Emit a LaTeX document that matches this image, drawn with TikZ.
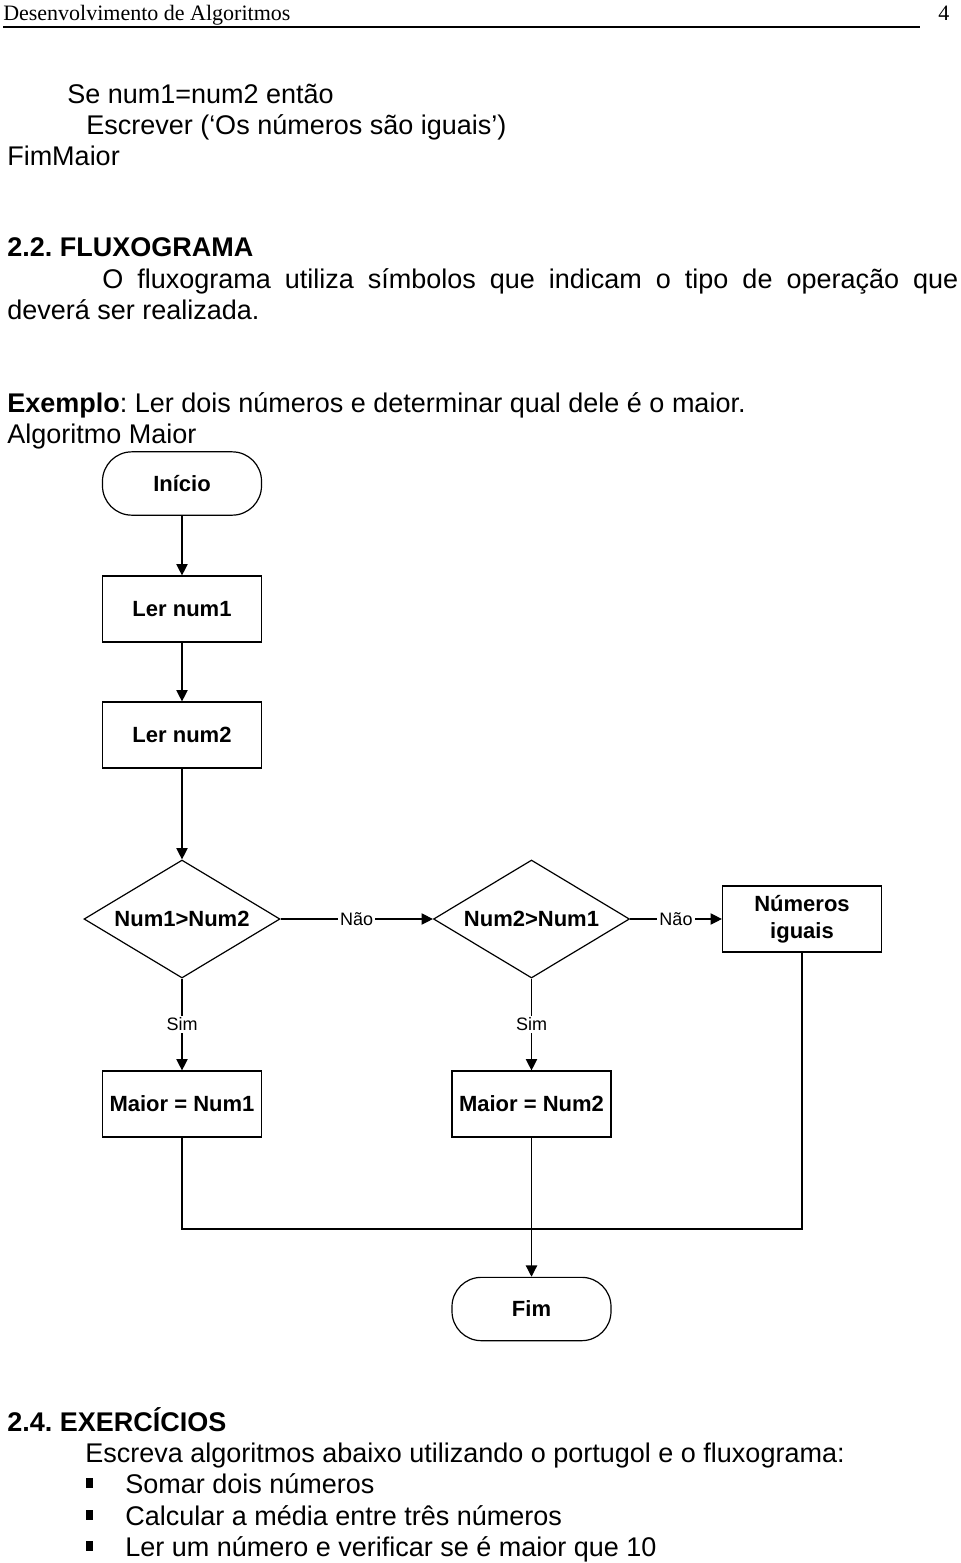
\documentclass[tikz,border=0pt]{standalone}
\usepackage{fontspec}
\setmainfont{Liberation Sans}
\newfontfamily\serifhdr{Liberation Serif}
\usetikzlibrary{shapes.geometric,arrows.meta}
\frenchspacing
\begin{document}
\frenchspacing
\begin{tikzpicture}[x=0.75pt,y=-0.75pt,
  body/.style={anchor=base west, inner sep=0, font=\fontsize{20.25}{23.25}\selectfont},
  hdr/.style={anchor=base west, inner sep=0, font=\serifhdr\fontsize{16.5}{19}\selectfont},
  proc/.style={draw, line width=0.9pt, minimum width=119.25pt, minimum height=49.5pt, inner sep=0pt,
    font=\fontsize{16.5}{20.25}\selectfont\bfseries, align=center},
  term/.style={proc, rounded corners=22pt, minimum height=47.5pt},
  dec/.style={draw, diamond, line width=0.9pt, minimum width=147pt, minimum height=88.5pt, inner sep=0pt,
    aspect=1.65, font=\fontsize{16.5}{20.25}\selectfont\bfseries},
  lab/.style={fill=white, inner sep=1.5pt, font=\fontsize{13.5}{16}\selectfont},
  arr/.style={line width=0.9pt, -{Triangle[length=8.5pt,width=8.5pt]}},
  ln/.style={line width=0.9pt}]
\useasboundingbox (0,0) rectangle (960,1563);
% header
\node[hdr] (h1) at (3,20) {Desenvolvimento de Algoritmos};
\node[hdr] (h2) at (938,20) {4};
\draw[line width=0.8pt] (3,27) -- (920,27);
% pseudo-code end
\node[body] (t1) at (67,103) {Se num1=num2 então};
\node[body] (t2) at (86,134) {Escrever (‘Os números são iguais’)};
\node[body] (t3) at (7,165) {FimMaior};
% section
\node[body,font=\fontsize{20.25}{23.25}\selectfont\bfseries] (s1) at (7,256) {2.2. FLUXOGRAMA};
\node[body] (p1) at (102,288) {\makebox[642pt][s]{O fluxograma utiliza símbolos que indicam o tipo de operação que}};
\node[body] (p2) at (7,319) {deverá ser realizada.};
\node[body] (e1) at (7,412) {\textbf{Exemplo}: Ler dois números e determinar qual dele é o maior.};
\node[body] (e2) at (7,443) {Algoritmo Maior};
% flowchart
\node[term] (ini) at (182,483.5) {Início};
\node[proc] (l1) at (182,609) {Ler num1};
\node[proc] (l2) at (182,735) {Ler num2};
\node[dec] (d1) at (182,919) {Num1>Num2};
\node[dec] (d2) at (531.5,919) {Num2>Num1};
\node[proc] (ni) at (802,919) {Números\\iguais};
\node[proc] (m1) at (182,1104) {Maior = Num1};
\node[proc] (m2) at (531.5,1104) {Maior = Num2};
\coordinate (j) at (531.5,1229);
\node[term] (fim) at (531.5,1309) {Fim};
\draw[arr] (ini) -- (l1);
\draw[arr] (l1) -- (l2);
\draw[arr] (l2) -- (d1);
\draw[arr] (d1.east) -- node[lab] {Não} (d2.west);
\draw[arr] (d2.east) -- node[lab] {Não} (ni.west);
\draw[arr] (d1.south) -- node[lab] {Sim} (m1.north);
\draw[arr] (d2.south) -- node[lab] {Sim} (m2.north);
\draw[ln] (m1.south) |- (j);
\draw[ln] (ni.south) |- (j);
\draw[arr] (m2.south) -- (fim.north);
% exercises
\node[body,font=\fontsize{20.25}{23.25}\selectfont\bfseries] (s2) at (7,1431) {2.4. EXERCÍCIOS};
\node[body] (x0) at (85,1462) {Escreva algoritmos abaixo utilizando o portugol e o fluxograma:};
\fill (86,1478) rectangle (93,1488);
\fill (86,1510) rectangle (93,1520);
\fill (86,1541) rectangle (93,1551);
\node[body] (x1) at (125,1493) {Somar dois números};
\node[body] (x2) at (125,1525) {Calcular a média entre três números};
\node[body] (x3) at (125,1556) {Ler um número e verificar se é maior que 10};
\end{tikzpicture}
\end{document}
